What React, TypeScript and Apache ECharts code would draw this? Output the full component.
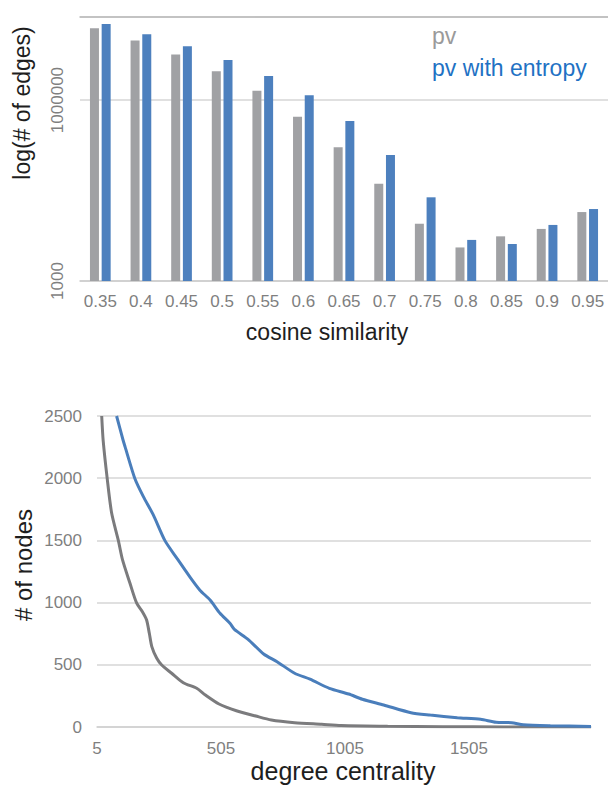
import React, { useEffect, useRef } from 'react';
import * as echarts from 'echarts';

// ---- Top chart: bar chart (log scale) ----
const similarityCategories = ['0.35', '0.4', '0.45', '0.5', '0.55', '0.6', '0.65', '0.7', '0.75', '0.8', '0.85', '0.9', '0.95'];
const pvEdges = [1.55e7, 9.7e6, 5.7e6, 3.0e6, 1.42e6, 5.3e5, 1.65e5, 4.1e4, 8.9e3, 3.6e3, 5.5e3, 7.3e3, 1.39e4];
const pvEntropyEdges = [1.83e7, 1.23e7, 7.8e6, 4.6e6, 2.5e6, 1.2e6, 4.5e5, 1.23e5, 2.44e4, 4.8e3, 4.1e3, 8.5e3, 1.56e4];
const edgesAxisMin = 1000;
const edgesAxisMax = 2.38e7;

// ---- Bottom chart: degree distribution ----
const degreeTickLabels = [5, 505, 1005, 1505];
const degreeMin = 5;
const degreeMax = 1997;
const pvNodes: [number, number][] = [
  [24, 2500], [30, 2300], [46, 2000], [64, 1720], [91, 1500], [108, 1343], [138, 1155], [165, 995],
  [188, 927], [205, 860], [216, 753], [226, 646], [246, 552], [266, 498], [306, 432], [353, 356],
  [407, 311], [442, 257], [497, 185], [567, 131], [645, 88], [708, 56], [802, 35], [911, 22],
  [989, 12], [1177, 6], [1400, 3], [1646, 1], [1997, 0],
];
const pvEntropyNodes: [number, number][] = [
  [84, 2500], [110, 2307], [118, 2254], [158, 1996], [192, 1852], [232, 1705], [279, 1498], [326, 1360],
  [380, 1205], [420, 1100], [461, 1021], [501, 914], [541, 834], [559, 785], [614, 705], [677, 587],
  [731, 525], [802, 432], [864, 384], [942, 311], [1020, 265], [1075, 223], [1161, 177], [1271, 115],
  [1349, 96], [1458, 75], [1552, 62], [1614, 38], [1677, 35], [1724, 18], [1833, 10], [1997, 5],
];

const FONT = 'Liberation Sans, Arial, Helvetica, sans-serif';
const LABEL_GRAY = '#7f7f7f';
const TITLE_COLOR = '#1e1e1e';
const GRID_GRAY = '#d6d6d6';

export default function App() {
  const ref = useRef<HTMLDivElement>(null);

  useEffect(() => {
    if (!ref.current) return;
    const chart = echarts.init(ref.current, null, { renderer: 'svg' });
    chart.setOption({
      animation: false,
      backgroundColor: '#ffffff',
      textStyle: { fontFamily: FONT },
      grid: [
        { left: 80, top: 17, width: 528, height: 264, containLabel: false },
        { left: 97, top: 416, width: 494, height: 311, containLabel: false },
      ],
      xAxis: [
        {
          gridIndex: 0,
          type: 'category',
          data: similarityCategories,
          axisTick: { show: false },
          axisLine: { lineStyle: { color: '#cbcbcb', width: 1.5 } },
          axisLabel: { color: LABEL_GRAY, fontSize: 17, margin: 12, fontFamily: FONT, interval: 0 },
        },
        {
          gridIndex: 0,
          type: 'category',
          position: 'top',
          data: similarityCategories,
          axisTick: { show: false },
          axisLabel: { show: false },
          axisLine: { show: true, lineStyle: { color: '#b9b9b9', width: 1.5 } },
        },
        {
          gridIndex: 1,
          type: 'value',
          min: degreeMin,
          max: degreeMax,
          splitLine: { show: false },
          axisTick: { show: false },
          axisLine: { show: true, lineStyle: { color: '#d0d0d0', width: 1.5 } },
          axisLabel: {
            color: LABEL_GRAY,
            fontSize: 17,
            margin: 13,
            fontFamily: FONT,
            customValues: degreeTickLabels,
            formatter: (v: number) => String(Math.round(v)),
          },
        },
      ],
      yAxis: [
        {
          gridIndex: 0,
          type: 'log',
          logBase: 1000,
          min: edgesAxisMin,
          max: edgesAxisMax,
          axisLine: { show: false },
          axisTick: { show: false },
          splitLine: { show: true, lineStyle: { color: GRID_GRAY, width: 1.5 } },
          axisLabel: {
            rotate: 90,
            color: LABEL_GRAY,
            fontSize: 17,
            margin: 14,
            fontFamily: FONT,
            showMaxLabel: false,
            formatter: (v: number) => {
              const l = Math.log10(v);
              const r = Math.round(l);
              if (Math.abs(l - r) > 0.01 || r % 3 !== 0) return '';
              return String(Math.pow(10, r));
            },
          },
        },
        {
          gridIndex: 1,
          type: 'value',
          min: 0,
          max: 2500,
          interval: 500,
          axisLine: { show: false },
          axisTick: { show: false },
          splitLine: { show: true, lineStyle: { color: GRID_GRAY, width: 1.5 } },
          axisLabel: {
            color: LABEL_GRAY,
            fontSize: 17,
            margin: 15,
            fontFamily: FONT,
            formatter: (v: number) => String(Math.round(v)),
          },
        },
      ],
      series: [
        {
          name: 'pv',
          type: 'bar',
          xAxisIndex: 0,
          yAxisIndex: 0,
          data: pvEdges,
          barWidth: 9,
          barGap: '30%',
          itemStyle: { color: '#a0a1a4' },
        },
        {
          name: 'pv with entropy',
          type: 'bar',
          xAxisIndex: 0,
          yAxisIndex: 0,
          data: pvEntropyEdges,
          barWidth: 9,
          barGap: '30%',
          itemStyle: { color: '#4d80be' },
        },
        {
          name: 'pv',
          type: 'line',
          xAxisIndex: 2,
          yAxisIndex: 1,
          data: pvNodes,
          showSymbol: false,
          smooth: 0.25,
          clip: true,
          lineStyle: { color: '#7b7b7d', width: 3 },
        },
        {
          name: 'pv with entropy',
          type: 'line',
          xAxisIndex: 2,
          yAxisIndex: 1,
          data: pvEntropyNodes,
          showSymbol: false,
          smooth: 0.25,
          clip: true,
          lineStyle: { color: '#4a7ebb', width: 3 },
        },
      ],
      graphic: [
        {
          type: 'text',
          x: 22,
          y: 103,
          rotation: Math.PI / 2,
          style: {
            text: 'log(# of edges)',
            fill: TITLE_COLOR,
            fontSize: 23,
            fontFamily: FONT,
            textAlign: 'center',
            textVerticalAlign: 'middle',
          },
        },
        {
          type: 'text',
          x: 327,
          y: 332,
          style: {
            text: 'cosine similarity',
            fill: TITLE_COLOR,
            fontSize: 23,
            fontFamily: FONT,
            textAlign: 'center',
            textVerticalAlign: 'middle',
          },
        },
        {
          type: 'text',
          x: 432,
          y: 36,
          style: {
            text: 'pv',
            fill: '#9a9a9a',
            fontSize: 23,
            fontFamily: FONT,
            textAlign: 'left',
            textVerticalAlign: 'middle',
          },
        },
        {
          type: 'text',
          x: 432,
          y: 68,
          style: {
            text: 'pv with entropy',
            fill: '#1f72c4',
            fontSize: 23,
            fontFamily: FONT,
            textAlign: 'left',
            textVerticalAlign: 'middle',
          },
        },
        {
          type: 'text',
          x: 23,
          y: 565,
          rotation: Math.PI / 2,
          style: {
            text: '# of nodes',
            fill: TITLE_COLOR,
            fontSize: 24,
            fontFamily: FONT,
            textAlign: 'center',
            textVerticalAlign: 'middle',
          },
        },
        {
          type: 'text',
          x: 343,
          y: 771,
          style: {
            text: 'degree centrality',
            fill: TITLE_COLOR,
            fontSize: 25,
            fontFamily: FONT,
            textAlign: 'center',
            textVerticalAlign: 'middle',
          },
        },
      ],
    });
    return () => chart.dispose();
  }, []);

  return (
    <div
      ref={ref}
      style={{ position: 'absolute', left: 0, top: 0, width: 608, height: 787 }}
    />
  );
}
